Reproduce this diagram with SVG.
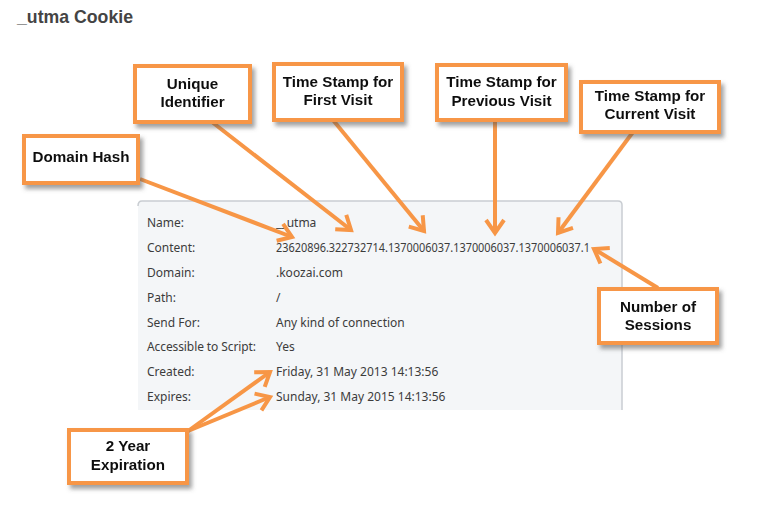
<svg xmlns="http://www.w3.org/2000/svg" width="759" height="505" viewBox="0 0 759 505">
<defs>
<filter id="sh" x="-20%" y="-20%" width="150%" height="160%">
<feDropShadow dx="3" dy="4" stdDeviation="2" flood-color="#555" flood-opacity="0.55"/>
</filter>
<marker id="ah" markerUnits="userSpaceOnUse" viewBox="-16 -12 20 24" markerWidth="20" markerHeight="24" refX="0" refY="0" orient="auto">
<path d="M-13,-9 L0,0 L-13,9" fill="none" stroke="#f79646" stroke-width="4" stroke-linejoin="miter" stroke-linecap="butt"/>
</marker>
</defs>
<style>
.title{font-family:"Liberation Sans",Arial,sans-serif;font-weight:bold;font-size:17.7px;fill:#444}
.lbl{font-family:"Noto Sans","Open Sans",sans-serif;font-size:12px;fill:#3c3c3c}
.box{fill:#fff;stroke:#f79646;stroke-width:4}
.bt{font-family:"Liberation Sans",Arial,sans-serif;font-weight:bold;font-size:15.2px;fill:#111;text-anchor:middle}
.con{stroke:#f79646;stroke-width:4;fill:none;marker-end:url(#ah)}
</style>
<rect width="759" height="505" fill="#fff"/>
<text class="title" x="17" y="23">_utma Cookie</text>
<g id="panel">
<path d="M138,410 L138,205 Q138,201 142,201 L618,201 Q622,201 622,205 L622,410 Z" fill="#f4f6f8" stroke="none"/>
<path d="M138,206 Q138,201 142,201 L618,201 Q622,201 622,205 L622,410" fill="none" stroke="#c9cdd2" stroke-width="1.5"/>
<text class="lbl" x="147" y="227">Name:</text>
<text class="lbl" x="147" y="252">Content:</text>
<text class="lbl" x="147" y="277">Domain:</text>
<text class="lbl" x="147" y="302">Path:</text>
<text class="lbl" x="147" y="327">Send For:</text>
<text class="lbl" x="147" y="351" textLength="109">Accessible to Script:</text>
<text class="lbl" x="147" y="376">Created:</text>
<text class="lbl" x="147" y="401">Expires:</text>
<text class="lbl" x="276" y="227">__utma</text>
<text class="lbl" x="276" y="252" textLength="314" lengthAdjust="spacingAndGlyphs">23620896.322732714.1370006037.1370006037.1370006037.1</text>
<text class="lbl" x="276" y="277">.koozai.com</text>
<text class="lbl" x="276" y="302">/</text>
<text class="lbl" x="276" y="327">Any kind of connection</text>
<text class="lbl" x="276" y="351">Yes</text>
<text class="lbl" x="276" y="376">Friday, 31 May 2013 14:13:56</text>
<text class="lbl" x="276" y="401">Sunday, 31 May 2015 14:13:56</text>
</g>
<g id="connectors">
<line class="con" x1="140" y1="179" x2="292" y2="237"/>
<line class="con" x1="212" y1="122" x2="351" y2="230"/>
<line class="con" x1="333" y1="120" x2="424" y2="231"/>
<line class="con" x1="495" y1="120" x2="495" y2="233"/>
<line class="con" x1="633" y1="132" x2="558" y2="233"/>
<line class="con" x1="658" y1="288" x2="594" y2="249"/>
<line class="con" x1="188" y1="431" x2="270" y2="372"/>
<line class="con" x1="188" y1="431" x2="270" y2="397"/>
</g>
<g id="domain-hash" filter="url(#sh)">
<rect class="box" x="24" y="136" width="114" height="47"/>
<text class="bt" x="81" y="162">Domain Hash</text>
</g>
<g id="unique-identifier" filter="url(#sh)">
<rect class="box" x="135" y="66" width="115" height="56"/>
<text class="bt" x="192.5" y="89">Unique</text>
<text class="bt" x="192.5" y="107">Identifier</text>
</g>
<g id="first-visit" filter="url(#sh)">
<rect class="box" x="274" y="64" width="128" height="56"/>
<text class="bt" x="338" y="87">Time Stamp for</text>
<text class="bt" x="338" y="105">First Visit</text>
</g>
<g id="previous-visit" filter="url(#sh)">
<rect class="box" x="437" y="65" width="129" height="55"/>
<text class="bt" x="501.5" y="87">Time Stamp for</text>
<text class="bt" x="501.5" y="106">Previous Visit</text>
</g>
<g id="current-visit" filter="url(#sh)">
<rect class="box" x="581" y="82" width="138" height="50"/>
<text class="bt" x="650" y="101">Time Stamp for</text>
<text class="bt" x="650" y="119">Current Visit</text>
</g>
<g id="number-of-sessions" filter="url(#sh)">
<rect class="box" x="599" y="289" width="118" height="54"/>
<text class="bt" x="658" y="312">Number of</text>
<text class="bt" x="658" y="330">Sessions</text>
</g>
<g id="two-year-expiration" filter="url(#sh)">
<rect class="box" x="69" y="430" width="118" height="53"/>
<text class="bt" x="128" y="451">2 Year</text>
<text class="bt" x="128" y="470">Expiration</text>
</g>
</svg>
